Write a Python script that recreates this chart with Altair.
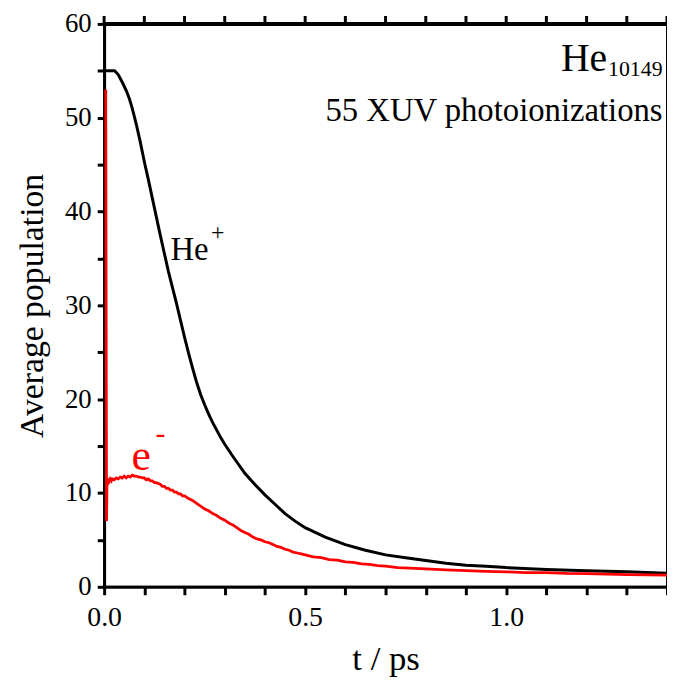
import altair as alt
import pandas as pd

# He+ population (black)
he_t = [0.0, 0.01, 0.02, 0.026, 0.035, 0.046, 0.055, 0.063, 0.07, 0.08, 0.09, 0.10, 0.11, 0.12,
        0.13, 0.14, 0.15, 0.16, 0.17, 0.18, 0.19, 0.20, 0.21, 0.22, 0.23, 0.24, 0.25, 0.26,
        0.27, 0.28, 0.29, 0.30, 0.317, 0.33, 0.35, 0.375, 0.40, 0.425, 0.45, 0.475, 0.50,
        0.525, 0.55, 0.60, 0.65, 0.70, 0.75, 0.80, 0.85, 0.90, 0.95, 1.00, 1.10, 1.20, 1.30, 1.40]
he_v = [55.0, 55.0, 55.0, 55.0, 54.6, 53.7, 52.9, 52.0, 51.0, 49.3, 47.4, 45.3, 43.4, 41.4,
        39.4, 37.4, 35.5, 33.6, 31.9, 30.2, 28.4, 26.6, 24.9, 23.3, 21.8, 20.5, 19.4, 18.4,
        17.5, 16.7, 15.9, 15.2, 14.1, 13.3, 12.1, 10.9, 9.8, 8.8, 7.8, 7.0, 6.3,
        5.8, 5.3, 4.5, 3.9, 3.4, 3.1, 2.8, 2.5, 2.3, 2.2, 2.05, 1.85, 1.7, 1.6, 1.45]

# electron population (red)
e_t = [0.004, 0.005, 0.006, 0.007, 0.008, 0.009, 0.010, 0.012, 0.015, 0.018, 0.02, 0.025,
       0.03, 0.035, 0.04, 0.045, 0.05, 0.055, 0.06, 0.065, 0.07, 0.075, 0.08, 0.085, 0.09,
       0.095, 0.10, 0.105, 0.11, 0.115, 0.12, 0.125, 0.13, 0.135, 0.14, 0.145, 0.15, 0.155,
       0.16, 0.165, 0.17, 0.175, 0.18, 0.185, 0.19, 0.195, 0.20, 0.21, 0.22, 0.23, 0.24,
       0.25, 0.26, 0.27, 0.28, 0.29, 0.30, 0.31, 0.32, 0.33, 0.34, 0.35, 0.36, 0.37, 0.38,
       0.39, 0.40, 0.41, 0.42, 0.43, 0.44, 0.45, 0.46, 0.47, 0.48, 0.49, 0.50, 0.52, 0.54,
       0.56, 0.58, 0.60, 0.62, 0.64, 0.66, 0.68, 0.70, 0.73, 0.76, 0.80, 0.85, 0.90, 0.95,
       1.00, 1.05, 1.10, 1.15, 1.20, 1.25, 1.30, 1.35, 1.40]
e_v = [53.0, 30.0, 7.0, 10.8, 11.6, 10.9, 11.4, 11.2, 11.5, 11.3, 11.5, 11.4,
       11.6, 11.5, 11.7, 11.6, 11.8, 11.6, 11.8, 11.7, 11.9, 11.8, 11.8, 11.7, 11.7,
       11.6, 11.6, 11.4, 11.5, 11.3, 11.3, 11.1, 11.1, 11.0, 10.9, 10.7, 10.7, 10.5,
       10.5, 10.3, 10.3, 10.1, 10.1, 9.9, 9.9, 9.7, 9.7, 9.4, 9.2, 8.9, 8.6,
       8.3, 8.1, 7.8, 7.6, 7.3, 7.1, 6.8, 6.6, 6.3, 6.0, 5.8, 5.6, 5.3, 5.1,
       5.0, 4.8, 4.7, 4.5, 4.3, 4.2, 4.0, 3.9, 3.7, 3.6, 3.5, 3.4, 3.2, 3.1,
       2.9, 2.85, 2.65, 2.6, 2.45, 2.4, 2.25, 2.2, 2.05, 2.0, 1.9, 1.8, 1.72, 1.65,
       1.6, 1.52, 1.5, 1.42, 1.4, 1.35, 1.3, 1.28, 1.25]

x_ticks = [0.0, 0.1, 0.2, 0.3, 0.4, 0.5, 0.6, 0.7, 0.8, 0.9, 1.0, 1.1, 1.2, 1.3, 1.4]
y_ticks = [0, 5, 10, 15, 20, 25, 30, 35, 40, 45, 50, 55, 60]

# annotation texts (position in data units)
ann_text = ["He", "+", "e", "-", "He", "10149", "55 XUV photoionizations"]
ann_t = [0.165, 0.266, 0.068, 0.128, 1.251, 1.389, 1.389]
ann_v = [34.8, 37.0, 12.4, 15.3, 55.0, 54.5, 49.7]
ann_size = [33, 24, 44, 30, 40, 22, 33]
ann_color = ["black", "black", "#ff0000", "#ff0000", "black", "black", "black"]
ann_align = ["left", "left", "left", "left", "right", "right", "right"]

he_df = pd.DataFrame({"t": he_t, "v": he_v})
e_df = pd.DataFrame({"t": e_t, "v": e_v})
tick_df = pd.DataFrame({"t": x_ticks})
ann_df = pd.DataFrame({"t": ann_t, "v": ann_v, "txt": ann_text})

FONT = "Liberation Serif"
W, H = 568, 568
xscale = alt.Scale(domain=[0, 1.4], nice=False, zero=False)
yscale = alt.Scale(domain=[0, 60], nice=False)

x_bottom = alt.Axis(orient="bottom", values=x_ticks, tickSize=8, tickWidth=3, domainWidth=3,
                    domainColor="black", tickColor="black", grid=False,
                    labelExpr="abs(datum.value*2 - round(datum.value*2)) < 0.001 ? format(datum.value, '.1f') : ''",
                    labelFont=FONT, labelFontSize=28, labelColor="black", labelPadding=9,
                    labelFlush=False, labelOverlap=False,
                    title="t / ps", titleFont=FONT, titleFontSize=35, titleFontWeight="normal",
                    titleColor="black", titlePadding=10)
y_left = alt.Axis(orient="left", values=y_ticks, tickSize=7, tickWidth=3, domainWidth=3,
                  domainColor="black", tickColor="black", grid=False,
                  labelExpr="datum.value % 10 == 0 ? format(datum.value, 'd') : ''",
                  labelFont=FONT, labelFontSize=27, labelColor="black", labelPadding=6,
                  labelFlush=False, labelOverlap=False,
                  title="Average population", titleFont=FONT, titleFontSize=34,
                  titleFontWeight="normal", titleColor="black", titlePadding=15)


def X():
    return alt.X("t:Q", scale=xscale, axis=x_bottom)


def Y():
    return alt.Y("v:Q", scale=yscale, axis=y_left)


he_line = alt.Chart(he_df).mark_line(color="black", strokeWidth=3).encode(x=X(), y=Y())
e_line = alt.Chart(e_df).mark_line(color="#ff0000", strokeWidth=2.8).encode(x=X(), y=Y())

# top frame line and its outward ticks
top_line = alt.Chart(tick_df).mark_rule(color="black", strokeWidth=3).encode(
    x=alt.value(0), x2=alt.value(W), y=alt.value(0))
top_ticks = alt.Chart(tick_df).mark_rule(color="black", strokeWidth=3).encode(
    x=X(), y=alt.value(-8), y2=alt.value(0))

text_layers = []
for i in range(len(ann_text)):
    sub = ann_df.iloc[[i]]
    text_layers.append(
        alt.Chart(sub).mark_text(font=FONT, fontSize=ann_size[i], color=ann_color[i],
                                 align=ann_align[i], baseline="alphabetic").encode(
            x=X(), y=Y(), text="txt:N")
    )

chart = (
    alt.layer(he_line, e_line, top_line, top_ticks, *text_layers)
    .properties(
        width=W, height=H,
        autosize=alt.AutoSizeParams(type="none"),
        padding={"left": 97, "top": 13, "right": 0, "bottom": 92},
        background="white",
    )
    .configure_axis(labelFont=FONT, titleFont=FONT)
    .configure_text(font=FONT)
    .configure_view(stroke="black", strokeWidth=2)
)

chart.save("out.html", embed_options={"renderer": "svg", "actions": False})
